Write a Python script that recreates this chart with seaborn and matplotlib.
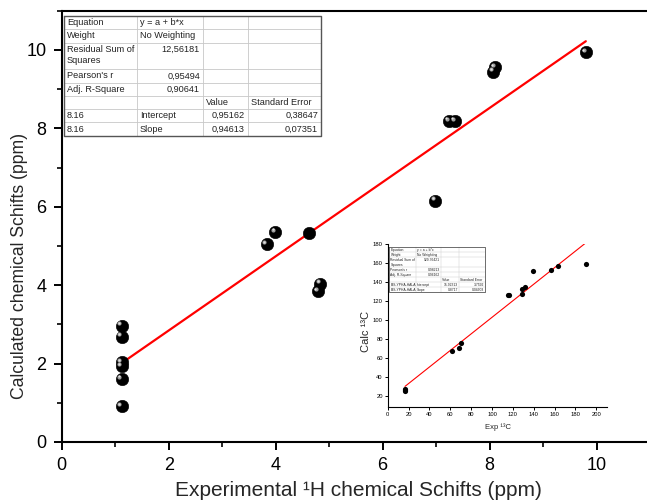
import matplotlib
matplotlib.use("Agg")
import matplotlib.pyplot as plt
import matplotlib.transforms as mtransforms
from matplotlib.lines import Line2D
import seaborn as sns
import pandas as pd
import numpy as np

# ---------------- data ----------------
exp_h = [1.12, 1.12, 1.12, 1.12, 1.12, 1.12, 3.83, 3.99, 4.62, 4.79, 4.83,
         6.98, 7.24, 7.35, 8.07, 8.10, 9.80]
calc_h = [2.97, 2.69, 2.04, 1.93, 1.61, 0.91, 5.05, 5.36, 5.33, 3.85, 4.04,
          6.16, 8.19, 8.19, 9.45, 9.56, 9.94]
shiny = [True, True, True, True, True, True, True, True, False, True, True,
         True, True, True, True, True, True]
fit_a, fit_b = 0.95162, 0.94613

exp_c = [16.6, 16.6, 16.6, 62.0, 68.4, 70.0, 115.2, 116.5, 128.6, 128.9,
         132.0, 139.4, 156.7, 163.4, 190.6]
calc_c = [27.4, 26.2, 25.4, 67.4, 70.8, 75.8, 126.6, 126.6, 128.0, 133.0,
          135.4, 152.0, 153.0, 157.5, 159.6]
fit_c_a, fit_c_b = 15.92313, 0.8717

main_table = [
    ["Equation", "y = a + b*x", "", ""],
    ["Weight", "No Weighting", "", ""],
    ["Residual Sum of\nSquares", "12,56181", "", ""],
    ["Pearson's r", "0,95494", "", ""],
    ["Adj. R-Square", "0,90641", "", ""],
    ["", "", "Value", "Standard Error"],
    ["8.16", "Intercept", "0,95162", "0,38647"],
    ["8.16", "Slope", "0,94613", "0,07351"],
]
inset_table = [
    ["Equation", "y = a + b*x", "", ""],
    ["Weight", "No Weighting", "", ""],
    ["Residual Sum of\nSquares", "929.76421", "", ""],
    ["Pearson's r", "0.98213", "", ""],
    ["Adj. R-Square", "0.96162", "", ""],
    ["", "", "Value", "Standard Error"],
    ["BIS-YPHA-HALA", "Intercept", "15.92313", "3.7592"],
    ["BIS-YPHA-HALA", "Slope", "0.8717", "0.04603"],
]
main_xticks = [0, 2, 4, 6, 8, 10]
main_yticks = [0, 2, 4, 6, 8, 10]
inset_xticks = list(range(0, 201, 20))
inset_yticks = list(range(20, 181, 20))

# ---------------- style ----------------
sns.set_theme(style="ticks")
plt.rcParams["font.family"] = ["Liberation Sans", "DejaVu Sans"]

W, H = 647, 503
fig = plt.figure(figsize=(W / 100, H / 100), dpi=100)
fig.patch.set_facecolor("white")


def rect(l, r, t, b):
    return [l / W, 1 - b / H, (r - l) / W, (b - t) / H]


# ---------------- main axes ----------------
ax = fig.add_axes(rect(61.7, 650.0, 10.8, 442.0))
ax.set_facecolor("white")
df = pd.DataFrame({"x": exp_h, "y": calc_h, "shiny": shiny})
sns.scatterplot(data=df, x="x", y="y", ax=ax, color="black", s=80,
                edgecolor="black", linewidth=0.4, zorder=4, legend=False)
hl = mtransforms.offset_copy(ax.transData, fig=fig, x=-1.6, y=1.6, units="points")
sns.scatterplot(data=df[df["shiny"]], x="x", y="y", ax=ax, color="#9c9c9c",
                s=9, linewidth=0, zorder=5, legend=False, transform=hl)
hl2 = mtransforms.offset_copy(ax.transData, fig=fig, x=-1.8, y=1.8, units="points")
sns.scatterplot(data=df[df["shiny"]], x="x", y="y", ax=ax, color="#e0e0e0",
                s=2.5, linewidth=0, zorder=6, legend=False, transform=hl2)

xl = np.array([min(exp_h), max(exp_h)])
sns.lineplot(x=xl, y=fit_a + fit_b * xl, ax=ax, color="red", linewidth=1.6,
             zorder=3)

ax.set_xlim(0, 11)
ax.set_ylim(0, 11)
ax.set_xticks(main_xticks)
ax.set_yticks(main_yticks)
ax.set_xticks([1, 3, 5, 7, 9, 11], minor=True)
ax.set_yticks([1, 3, 5, 7, 9, 11], minor=True)
ax.tick_params(which="major", direction="out", length=6, width=1.4,
               labelsize=13, colors="black", pad=5)
ax.tick_params(which="minor", direction="out", length=3.5, width=1.4)
for sp in ax.spines.values():
    sp.set_linewidth(1.5)
    sp.set_color("black")
ax.set_xlabel("")
ax.set_ylabel("")
fig.text(20 / W, 1 - 266 / H, "Calculated chemical Schifts (ppm)",
         rotation=90, ha="center", va="center", fontsize=12.7)
fig.text(358 / W, 1 - 491 / H, "Experimental \u00b9H chemical Schifts (ppm)",
         ha="center", va="center", fontsize=15)


# ---------------- tables ----------------
def draw_table(cells, cols, top, unit, fs, pad, border_lw, grid_lw):
    heights = [2 if "\n" in r[0] else 1 for r in cells]
    ys = [top]
    for h in heights:
        ys.append(ys[-1] + h * unit)
    l, r, b = cols[0], cols[-1], ys[-1]
    for y in ys[1:-1]:
        fig.add_artist(Line2D([l / W, r / W], [1 - y / H, 1 - y / H],
                              color="#c8c8c8", lw=grid_lw))
    for x in cols[1:-1]:
        fig.add_artist(Line2D([x / W, x / W], [1 - top / H, 1 - b / H],
                              color="#c8c8c8", lw=grid_lw))
    fig.add_artist(Line2D([l / W, r / W, r / W, l / W, l / W],
                          [1 - top / H, 1 - top / H, 1 - b / H, 1 - b / H, 1 - top / H],
                          color="#555555", lw=border_lw))
    for i, row in enumerate(cells):
        for j, txt in enumerate(row):
            if not txt:
                continue
            numeric = txt[0].isdigit() and j > 0
            if j == 0 or not numeric:
                x, ha = cols[j] + pad, "left"
            else:
                x, ha = cols[j + 1] - pad, "right"
            if "\n" in txt:
                fig.text(x / W, 1 - (ys[i] + unit * 0.15) / H, txt, ha=ha,
                         va="top", fontsize=fs, color="#222222", linespacing=1.3)
            else:
                fig.text(x / W, 1 - (ys[i] + unit / 2) / H, txt, ha=ha,
                         va="center", fontsize=fs, color="#222222")


draw_table(main_table, [64, 137, 203, 248, 321], 16, 13.3, 6.6, 3, 1.0, 0.6)

# ---------------- inset ----------------
ax2 = fig.add_axes(rect(387.7, 606.7, 244.3, 406.7))
ax2.set_facecolor("none")
dfc = pd.DataFrame({"x": exp_c, "y": calc_c})
sns.scatterplot(data=dfc, x="x", y="y", ax=ax2, color="black", s=14,
                linewidth=0, zorder=4, legend=False)
xc = np.array([min(exp_c), 200])
yc = fit_c_a + fit_c_b * xc
sns.lineplot(x=xc, y=yc, ax=ax2, color="red", linewidth=0.8, zorder=3)
ax2.set_xlim(0, 210)
ax2.set_ylim(9, 180)
ax2.set_xticks(inset_xticks)
ax2.set_yticks(inset_yticks)
ax2.tick_params(which="major", direction="out", length=2, width=0.7,
                labelsize=4.2, pad=1.5, colors="black")
for k in ["top", "right"]:
    ax2.spines[k].set_visible(False)
for k in ["left", "bottom"]:
    ax2.spines[k].set_linewidth(0.8)
    ax2.spines[k].set_color("black")
ax2.set_xlabel("")
ax2.set_ylabel("")
fig.text(366 / W, 1 - 331 / H, "Calc \u00b9\u00b3C", rotation=90,
         ha="center", va="center", fontsize=8)
fig.text(498 / W, 1 - 427 / H, "Exp \u00b9\u00b3C", ha="center",
         va="center", fontsize=5.5)

draw_table(inset_table, [389.3, 416, 441, 459.3, 485.3], 247.3, 5.0, 2.4, 1.2,
           0.6, 0.3)

fig.savefig("out.png", dpi=100, facecolor="white")
